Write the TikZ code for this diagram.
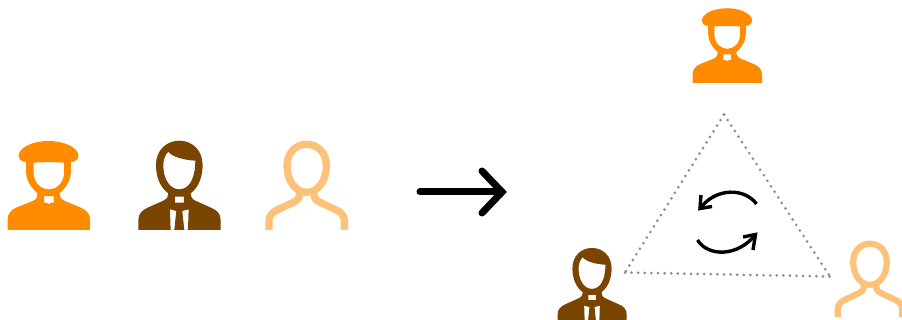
\documentclass[tikz,border=0pt]{standalone}
\definecolor{iconorange}{HTML}{FF8C00}
\definecolor{iconbrown}{HTML}{7A4500}
\definecolor{iconlight}{HTML}{FDC27A}
\definecolor{dotgray}{HTML}{8F8F8F}
\tikzset{
  pics/beretperson/.style={code={
    \begin{scope}[shift={(-145,-300)}]
    \fill[iconorange,even odd rule]
      (22,300) -- (22,270) .. controls (22,250) and (35,238) .. (50,232) -- (100,212)
      .. controls (110,207) and (112,200) .. (112,190)
      .. controls (90,170) and (78,150) .. (78,125) -- (78,90) -- (212,90) -- (212,125)
      .. controls (212,150) and (200,170) .. (178,190)
      .. controls (178,200) and (182,207) .. (192,212) -- (240,232)
      .. controls (258,240) and (270,250) .. (270,270) -- (270,300) -- cycle
      (100,98) .. controls (130,96) and (162,96) .. (192,98) -- (192,125)
      .. controls (192,158) and (170,178) .. (146,178)
      .. controls (122,178) and (100,158) .. (100,125) -- cycle
      (132,198) -- (160,198) -- (160,218) -- (153,218) -- (146,222) -- (139,218) -- (132,218) -- cycle;
    \fill[iconorange]
      (55,75) .. controls (60,50) and (100,33) .. (145,33)
      .. controls (190,33) and (230,50) .. (235,75)
      .. controls (235,88) and (225,96) .. (212,96)
      .. controls (190,90) and (100,90) .. (78,96)
      .. controls (65,96) and (55,88) .. (55,75) -- cycle;
    \end{scope}
  }},
  pics/suitperson/.style={code={
    \begin{scope}[shift={(-538,-300)}]
    \fill[iconbrown,even odd rule]
      (415,300) -- (415,270) .. controls (415,250) and (428,240) .. (443,233) -- (490,212)
      .. controls (502,206) and (505,200) .. (505,190)
      .. controls (480,172) and (468,140) .. (468,105)
      .. controls (468,60) and (500,32) .. (538,32)
      .. controls (576,32) and (608,60) .. (608,105)
      .. controls (608,140) and (596,172) .. (572,190)
      .. controls (572,200) and (575,206) .. (586,212) -- (633,233)
      .. controls (650,240) and (662,250) .. (662,270) -- (662,300) -- cycle
      (505,65) .. controls (515,80) and (550,90) .. (586,92)
      .. controls (586,150) and (565,178) .. (538,178)
      .. controls (511,178) and (490,150) .. (490,105)
      .. controls (490,90) and (495,75) .. (505,65) -- cycle
      (525,200) -- (552,200) -- (552,218) -- (525,218) -- cycle
      (510,238) -- (529,243) -- (523,300) -- (512,300) -- cycle
      (566,238) -- (547,243) -- (553,300) -- (564,300) -- cycle;
    \end{scope}
  }},
  pics/plainperson/.style={code={
    \begin{scope}[shift={(-170,-300)}]
    \draw[iconlight,line width=#1]
      (170,43) .. controls (205,43) and (229,70) .. (229,108)
      .. controls (229,150) and (205,187) .. (170,187)
      .. controls (135,187) and (111,150) .. (111,108)
      .. controls (111,70) and (135,43) .. (170,43) -- cycle;
    \draw[iconlight,line width=#1]
      (57,300) -- (57,272) .. controls (57,255) and (70,245) .. (85,238) -- (130,217)
      .. controls (145,210) and (150,200) .. (148,186);
    \draw[iconlight,line width=#1]
      (283,300) -- (283,272) .. controls (283,255) and (270,245) .. (255,238) -- (210,217)
      .. controls (195,210) and (190,200) .. (192,186);
    \end{scope}
  }},
  dotline/.style={dotgray,line width=3pt,line cap=round,dash pattern=on 0pt off 6.6pt},
  bigarrow/.style={black,line width=7pt,line cap=round,line join=miter},
  cyclearrow/.style={black,line width=3.4pt,line join=miter}
}
\begin{document}
\begin{tikzpicture}[x=1pt,y=-1pt]
  \clip (0,0) rectangle (902,320);
  \fill[white] (0,0) rectangle (902,320);
  \pic[shift={(48.5,230)},scale=0.3333] (p1) {beretperson};
  \pic[shift={(179.3,230)},scale=0.3333] (p2) {suitperson};
  \pic[shift={(306.7,230)},scale=0.3333] (p3) {plainperson=7.3pt};
  \pic[shift={(727,83)},scale=0.28] (q1) {beretperson};
  \pic[shift={(592,323)},scale=0.28] (q2) {suitperson};
  \pic[shift={(870,317)},scale=0.285] (q3) {plainperson=6.2pt};

  \coordinate (as) at (420,192);
  \coordinate (at) at (502,192);
  \coordinate (au) at (482,171);
  \coordinate (ad) at (482,213);
  \draw[bigarrow] (as) -- (at);
  \draw[bigarrow] (au) -- (at) -- (ad);

  \coordinate (ta) at (724,114.5);
  \coordinate (tl) at (625,272.5);
  \coordinate (tr) at (830,276.5);
  \draw[dotline] (ta) -- (tl);
  \draw[dotline] (tl) -- (tr);
  \draw[dotline] (ta) -- (tr);

  \coordinate (c1s) at (756.5,204);
  \coordinate (c1t) at (700,208.5);
  \coordinate (c1u) at (701,195);
  \coordinate (c1d) at (712,206.5);
  \draw[cyclearrow] (c1s) .. controls (745,188) and (716,187) .. (c1t);
  \draw[cyclearrow] (c1u) -- (c1t) -- (c1d);

  \coordinate (c2s) at (697.5,240);
  \coordinate (c2t) at (755.5,234.5);
  \coordinate (c2u) at (743,237);
  \coordinate (c2d) at (753,250);
  \draw[cyclearrow] (c2s) .. controls (708,257) and (738,257) .. (c2t);
  \draw[cyclearrow] (c2u) -- (c2t) -- (c2d);
\end{tikzpicture}
\end{document}
